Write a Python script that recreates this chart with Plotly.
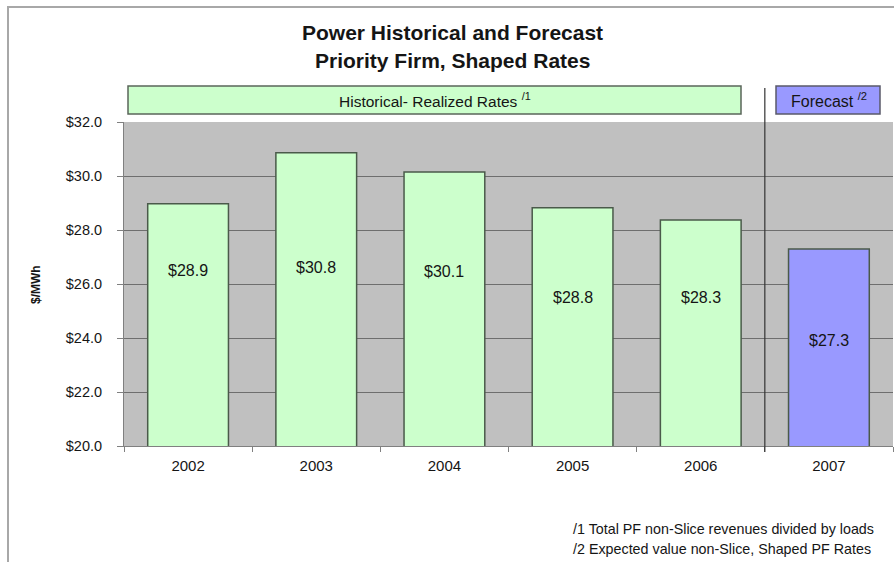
import plotly.graph_objects as go

years = ["2002", "2003", "2004", "2005", "2006", "2007"]
rates = [28.97, 30.86, 30.15, 28.82, 28.37, 27.3]
labels = ["$28.9", "$30.8", "$30.1", "$28.8", "$28.3", "$27.3"]
label_y = [26.5, 26.6, 26.45, 25.5, 25.5, 23.9]
colors = ["#CCFFCC"] * 5 + ["#9999FF"]
y_ticks = [20, 22, 24, 26, 28, 30, 32]
y_tick_text = ["$%.1f" % v for v in y_ticks]

FONT = "Liberation Sans, Arial, sans-serif"
TXT = "#151515"
idx = list(range(len(years)))
bounds = [i - 0.5 for i in range(len(years) + 1)]

fig = go.Figure()
fig.add_trace(go.Bar(
    x=idx, y=rates, width=0.63,
    marker=dict(color=colors, line=dict(color="#4a5a4a", width=1.5)),
    hoverinfo="skip", showlegend=False,
))

fig.update_layout(
    width=894, height=562,
    margin=dict(l=124, r=1, t=122, b=116),
    paper_bgcolor="white", plot_bgcolor="#C0C0C0",
    xaxis=dict(range=[-0.5, len(years) - 0.5], tickvals=idx, ticktext=years,
               showgrid=False, ticks="", ticklen=0, ticklabelstandoff=6,
               minor=dict(tickvals=bounds, ticks="outside", ticklen=5, tickcolor="#808080",
                          showgrid=False),
               showline=True, linecolor="#808080", linewidth=1,
               tickfont=dict(family=FONT, size=15, color=TXT),
               zeroline=False, fixedrange=True),
    yaxis=dict(range=[20, 32], tickvals=y_ticks, ticktext=y_tick_text,
               showgrid=True, gridcolor="#6e6e6e", gridwidth=1,
               ticks="outside", ticklen=6, tickcolor="#808080", ticklabelstandoff=12,
               showline=True, linecolor="#808080", linewidth=1,
               tickfont=dict(family=FONT, size=14.5, color=TXT),
               zeroline=False, fixedrange=True),
)

H = 324.0
W = 769.0
def px(xpix):
    return (xpix - 124) / W
def py(ypix):
    return (446 - ypix) / H

annotations = []
for i, ly, t in zip(idx, label_y, labels):
    annotations.append(dict(x=i, y=ly, xref="x", yref="y", text=t, showarrow=False,
                            xanchor="center", yanchor="middle",
                            font=dict(family=FONT, size=16, color=TXT)))

def note(xp, yp, text, size, anchor="center", angle=0):
    return dict(x=px(xp), y=py(yp), xref="paper", yref="paper", text=text,
                showarrow=False, xanchor=anchor, yanchor="middle", textangle=angle,
                font=dict(family=FONT, size=size, color=TXT))

annotations += [
    note(452, 33, "<b>Power Historical and Forecast</b>", 21),
    note(452, 60, "<b>Priority Firm, Shaped Rates</b>", 21),
    note(435, 100, "Historical- Realized Rates <sup>/1</sup>", 15.5),
    note(829, 100, "Forecast <sup>/2</sup>", 16),
    note(571, 529, "/1 Total PF non-Slice revenues divided by loads", 14.3, "left"),
    note(571, 549, "/2 Expected value non-Slice, Shaped PF Rates", 14.3, "left"),
    note(36, 285, "<b>$/MWh</b>", 12, angle=-90),
]

shapes = [
    dict(type="rect", xref="paper", yref="paper", x0=px(8), x1=px(905), y0=py(7), y1=py(575),
         line=dict(color="#a8a8a8", width=2), layer="below"),
    dict(type="rect", xref="paper", yref="paper", x0=px(128), x1=px(741), y0=py(114), y1=py(86),
         fillcolor="#CCFFCC", line=dict(color="#5a665a", width=1.5), layer="below"),
    dict(type="rect", xref="paper", yref="paper", x0=px(776), x1=px(880), y0=py(114), y1=py(86),
         fillcolor="#9999FF", line=dict(color="#5a5a6a", width=1.5), layer="below"),
    dict(type="line", xref="x", yref="paper", x0=4.5, x1=4.5, y0=py(452), y1=py(88),
         line=dict(color="#333333", width=1.2)),
]

fig.update_layout(annotations=annotations, shapes=shapes)
fig.write_html("out.html")
